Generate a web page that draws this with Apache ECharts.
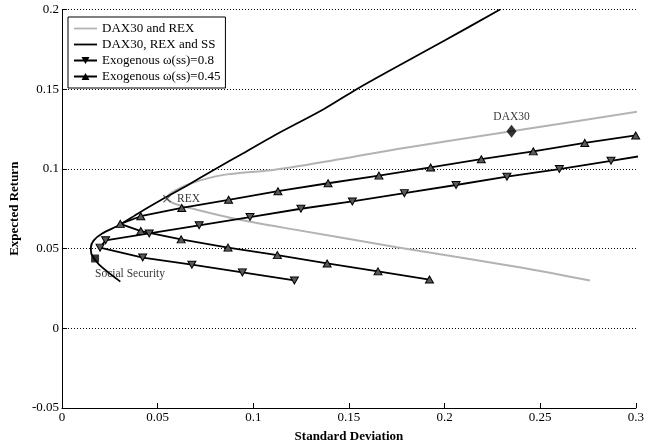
<!DOCTYPE html>
<html>
<head>
<meta charset="utf-8">
<script src="https://cdn.jsdelivr.net/npm/echarts@6/dist/echarts.min.js"></script>
<style>
  html, body { margin: 0; padding: 0; background: #fff; }
  #chart { width: 647px; height: 448px; }
</style>
</head>
<body>
<div id="chart"></div>
<script>
// Efficient frontiers: [standard deviation, expected return]
const frontierDaxRex = [
  [0.276, 0.030], [0.2398, 0.0382], [0.175, 0.0509], [0.1163, 0.0630],
  [0.0923, 0.0682], [0.070, 0.0745], [0.058, 0.0786], [0.0548, 0.0820],
  [0.0590, 0.0864], [0.0680, 0.0912], [0.0837, 0.0961], [0.1112, 0.0995],
  [0.1450, 0.1060], [0.1755, 0.1125], [0.2350, 0.1236], [0.3016, 0.1361]
];
const frontierDaxRexSs = [
  [0.0305, 0.0293], [0.0194, 0.0400], [0.0156, 0.0460], [0.0151, 0.0506],
  [0.0165, 0.0550], [0.0210, 0.0595], [0.0305, 0.0651], [0.0400, 0.0722],
  [0.0520, 0.0806], [0.0650, 0.0893], [0.0800, 0.0998], [0.0950, 0.1100],
  [0.1110, 0.1210], [0.1370, 0.1376], [0.1540, 0.1500], [0.1700, 0.1608],
  [0.2000, 0.1805], [0.2290, 0.2000]
];
// Exogenous social security weight 0.8 (lower branch, then upper branch)
const exoHighLower = [
  [0.1215, 0.0300], [0.0943, 0.0351], [0.0679, 0.0399], [0.0422, 0.0444], [0.0199, 0.0506]
];
const exoHighUpper = [
  [0.0228, 0.0552], [0.0456, 0.0595], [0.0717, 0.0646], [0.0983, 0.0698],
  [0.1249, 0.0750], [0.1518, 0.0796], [0.1790, 0.0848], [0.2060, 0.0899],
  [0.2326, 0.0951], [0.2600, 0.0999], [0.2870, 0.1051]
];
const exoHighTail = [0.305, 0.1085];
// Exogenous social security weight 0.45
const exoLowLower = [
  [0.1921, 0.0306], [0.1652, 0.0357], [0.1386, 0.0407], [0.1126, 0.0459],
  [0.0868, 0.0506], [0.0623, 0.0558], [0.0412, 0.0610]
];
const exoLowUpper = [
  [0.0305, 0.0655], [0.0412, 0.0703], [0.0626, 0.0755], [0.0871, 0.0806],
  [0.1129, 0.0860], [0.1391, 0.0910], [0.1657, 0.0958], [0.1927, 0.1009],
  [0.2192, 0.1061], [0.2464, 0.1110], [0.2733, 0.1163], [0.2999, 0.1210]
];
// Single assets
const pointDax = [0.2350, 0.1236];
const pointRex = [0.0549, 0.0812];
const pointSs = [0.0173, 0.0438];

const seriesNames = [
  'DAX30 and REX',
  'DAX30, REX and SS',
  'Exogenous \u03c9(ss)=0.8',
  'Exogenous \u03c9(ss)=0.45'
];

const serif = "'Liberation Serif', 'Times New Roman', serif";
const downTriangle = 'path://M0,0 L10,0 L5,9 Z';
const upTriangle = 'path://M5,0 L10,9 L0,9 Z';
const crossMark = 'path://M0,1 L1,0 L5,4 L9,0 L10,1 L6,5 L10,9 L9,10 L5,6 L1,10 L0,9 L4,5 Z';
// legend glyphs: plain line, and line with a small triangle on it
const lineIcon = 'path://M0,0 L23,0 L23,1.8 L0,1.8 Z';
const lineDownIcon = 'path://M0,5.1 L23,5.1 L23,6.9 L0,6.9 Z M7.5,2.5 L15.5,2.5 L11.5,9.5 Z';
const lineUpIcon = 'path://M0,5.1 L23,5.1 L23,6.9 L0,6.9 Z M11.5,2.5 L15.5,9.5 L7.5,9.5 Z';

const markerStyle = { color: '#5a5a5a', borderColor: '#000', borderWidth: 1 };

const chart = echarts.init(document.getElementById('chart'), null, { renderer: 'canvas' });

chart.setOption({
  animation: false,
  backgroundColor: '#fff',
  textStyle: { fontFamily: serif, color: '#000' },
  grid: { left: 54, right: 10, top: 9.5, bottom: 36, containLabel: false },
  legend: {
    orient: 'vertical',
    left: 68,
    top: 17,
    padding: [5, 5, 5, 6],
    itemGap: 3,
    itemWidth: 23,
    itemHeight: 12,
    borderColor: '#000',
    borderWidth: 1,
    backgroundColor: '#fff',
    textStyle: { fontFamily: serif, fontSize: 13, color: '#000' },
    data: [
      { name: seriesNames[0], icon: lineIcon },
      { name: seriesNames[1], icon: lineIcon },
      { name: seriesNames[2], icon: lineDownIcon, itemStyle: { color: '#000', borderWidth: 0 } },
      { name: seriesNames[3], icon: lineUpIcon, itemStyle: { color: '#000', borderWidth: 0 } }
    ]
  },
  xAxis: {
    type: 'value',
    min: 0, max: 0.3, interval: 0.05,
    name: 'Standard Deviation',
    nameLocation: 'middle',
    nameGap: 22,
    nameTextStyle: { fontFamily: serif, fontSize: 13, fontWeight: 'bold', color: '#000' },
    axisLine: { show: true, onZero: false, lineStyle: { color: '#000', width: 1 } },
    axisTick: { show: true, inside: true, length: 5, lineStyle: { color: '#000' } },
    axisLabel: { fontFamily: serif, fontSize: 13, color: '#000', margin: 3, showMaxLabel: true, showMinLabel: true },
    splitLine: { show: false }
  },
  yAxis: {
    type: 'value',
    min: -0.05, max: 0.2, interval: 0.05,
    name: 'Expected Return',
    nameLocation: 'middle',
    nameGap: 36,
    nameTextStyle: { fontFamily: serif, fontSize: 13, fontWeight: 'bold', color: '#000' },
    axisLine: { show: true, onZero: false, lineStyle: { color: '#000', width: 1 } },
    axisTick: { show: true, inside: true, length: 5, lineStyle: { color: '#000' } },
    axisLabel: { fontFamily: serif, fontSize: 13, color: '#000', margin: 3 },
    splitLine: { show: true, lineStyle: { color: '#000', width: 1, type: [1, 2] } }
  },
  series: [
    {
      name: seriesNames[0],
      type: 'line',
      data: frontierDaxRex,
      smooth: 0.3,
      showSymbol: false,
      symbol: 'none',
      clip: false,
      lineStyle: { color: '#b3b3b3', width: 2 },
      itemStyle: { color: '#b3b3b3' },
      z: 2
    },
    {
      name: seriesNames[1],
      type: 'line',
      data: frontierDaxRexSs,
      smooth: 0.3,
      showSymbol: false,
      symbol: 'none',
      lineStyle: { color: '#000', width: 1.8 },
      itemStyle: { color: '#000' },
      z: 3
    },
    {
      name: seriesNames[2],
      type: 'line',
      data: exoHighLower.concat(exoHighUpper).concat([{ value: exoHighTail, symbol: 'none' }]),
      symbol: downTriangle,
      symbolSize: [8, 7],
      showAllSymbol: true,
      clip: false,
      lineStyle: { color: '#000', width: 1.8 },
      itemStyle: markerStyle,
      z: 4
    },
    {
      name: seriesNames[3],
      type: 'line',
      data: exoLowLower.concat(exoLowUpper),
      symbol: upTriangle,
      symbolSize: [8, 7],
      showAllSymbol: true,
      clip: false,
      lineStyle: { color: '#000', width: 1.8 },
      itemStyle: markerStyle,
      z: 4
    },
    {
      name: 'DAX30',
      type: 'scatter',
      data: [pointDax],
      symbol: 'diamond',
      symbolSize: [10, 13],
      itemStyle: { color: '#000' },
      label: { show: true, formatter: 'DAX30', position: 'top', distance: 2, fontFamily: serif, fontSize: 11.5, color: '#000' },
      z: 5
    },
    {
      name: 'REX',
      type: 'scatter',
      data: [pointRex],
      symbol: crossMark,
      symbolSize: 8,
      itemStyle: { color: '#333' },
      label: { show: true, formatter: 'REX', position: 'right', distance: 6, fontFamily: serif, fontSize: 11.5, color: '#000' },
      z: 5
    },
    {
      name: 'Social Security',
      type: 'scatter',
      data: [pointSs],
      symbol: 'rect',
      symbolSize: 8,
      itemStyle: { color: '#000' },
      label: { show: true, formatter: 'Social Security', position: 'bottom', align: 'left', distance: 6, fontFamily: serif, fontSize: 11.5, color: '#000' },
      z: 5
    }
  ]
});
</script>
</body>
</html>
